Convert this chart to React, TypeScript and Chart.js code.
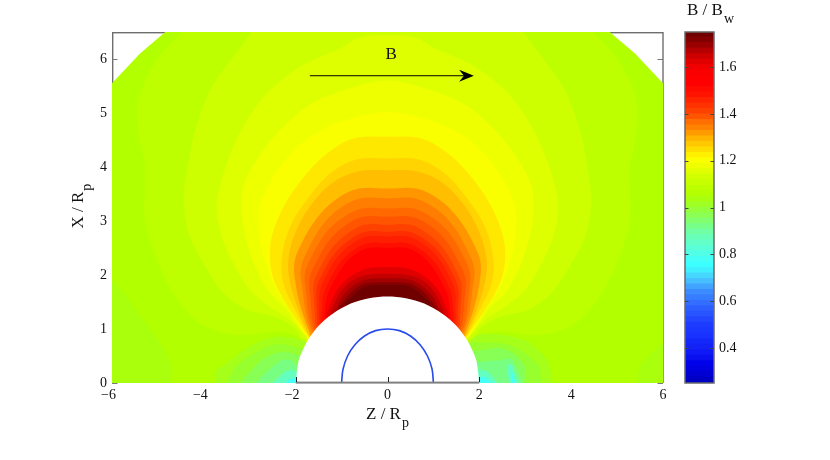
import React, { useEffect, useRef } from "react";
import { Chart, registerables } from "chart.js";

Chart.register(...registerables);

const xTicks = [-6, -4, -2, 0, 2, 4, 6];
const yTicks = [0, 1, 2, 3, 4, 5, 6];
const barTicks = [0.4, 0.6, 0.8, 1, 1.2, 1.4, 1.6];
const obstacleTicks = [-2, 0, 2];
const barMin = 0.25;
const barMax = 1.75;

const SERIF = '"Liberation Serif", serif';

// Colour bar, bottom to top
const barColors = [
  "0,0,195","0,0,210","0,0,225","0,0,235","10,15,240","15,25,245","20,35,245","20,40,250",
  "25,50,255","25,55,255","30,60,255","35,70,255","40,85,255","45,95,255","50,110,255","55,125,255",
  "60,140,255","65,165,255","70,190,255","70,215,255","65,240,255","60,255,255","70,255,245","80,255,230",
  "90,255,215","98,255,200","105,255,185","112,255,165","120,255,135","130,255,110","140,255,85","150,255,60",
  "160,255,35","170,255,15","180,255,0","190,255,0","200,255,0","210,255,0","225,255,0","240,255,0",
  "252,255,0","255,240,0","255,220,0","255,200,0","255,180,0","255,155,0","255,130,0","255,110,0",
  "255,85,0","255,65,0","255,50,0","255,35,0","255,20,0","255,10,0","255,0,0","255,0,0",
  "250,0,0","240,0,0","225,0,0","205,0,0","180,0,0","155,0,0","130,0,0","110,0,0",
];

type P = [number, number];

// Outline of the computed domain
const domain: P[] = [[-6, 0], [-6, 5.55], [-5.39, 6.1], [-4.84, 6.5], [4.84, 6.5], [5.39, 6.1], [6, 5.55], [6, 0]];

// Contour outlines, left half (mirrored for the right half), outermost first
const domeLevels: { color: string; tension: number; pts: P[] }[] = [
  { color: "190,255,0", tension: 0.3, pts: [[-4.48, 6.5], [-5.03, 5.98], [-5.42, 5.24], [-5.42, 4.62], [-5.28, 4.0], [-5.28, 3.02], [-5.02, 2.28], [-4.62, 1.6], [-4.08, 1.1], [-3.36, 0.89], [-2.41, 0.95], [-2.0, 0.88], [-1.7, 0.68]] },
  { color: "205,255,0", tension: 0.3, pts: [[-2.96, 6.5], [-3.36, 6.04], [-3.86, 5.43], [-4.19, 4.69], [-4.34, 4.07], [-4.44, 3.4], [-4.33, 2.77], [-4.01, 2.22], [-3.57, 1.66], [-3.06, 1.35], [-2.48, 1.23], [-2.05, 1.03], [-1.7, 0.72]] },
  { color: "222,255,0", tension: 0.3, pts: [[0, 6.44], [-0.6, 6.4], [-1.03, 6.2], [-1.9, 5.86], [-2.63, 5.36], [-3.14, 4.75], [-3.5, 4.07], [-3.72, 3.3], [-3.61, 2.71], [-3.36, 2.22], [-3.0, 1.72], [-2.56, 1.41], [-2.1, 1.15], [-1.7, 0.78]] },
  { color: "238,255,0", tension: 0.3, pts: [[0, 5.6], [-1.03, 5.4], [-1.76, 5.12], [-2.41, 4.62], [-2.85, 4.13], [-3.14, 3.64], [-3.17, 3.08], [-3.06, 2.59], [-2.85, 2.09], [-2.56, 1.66], [-2.19, 1.35], [-1.95, 1.05], [-1.7, 0.78]] },
  { color: "250,255,0", tension: 0.3, pts: [[0, 5.02], [-1.03, 4.84], [-1.61, 4.6], [-2.05, 4.3], [-2.5, 3.8], [-2.78, 3.3], [-2.81, 3.08], [-2.77, 2.59], [-2.63, 2.15], [-2.41, 1.72], [-2.12, 1.35], [-1.88, 1.0], [-1.7, 0.78]] },
];

const footGreens: { color: string; pts: P[] }[] = [
  { color: "170,255,12", pts: [[-6, 0], [-6, 1.9], [-5.52, 1.4], [-5.0, 0.8], [-4.7, 0.3], [-4.7, 0]] },
  { color: "170,255,12", pts: [[5.42, 0], [5.5, 0.3], [6, 0.73], [6, 0]] },
  { color: "165,255,25", pts: [[-3.75, 0], [-3.75, 0.21], [-3.5, 0.36], [-3.14, 0.61], [-2.7, 0.8], [-2.34, 0.86], [-1.9, 0.8], [-1.7, 0.7], [-1.7, 0]] },
  { color: "150,255,45", pts: [[-3.5, 0], [-3.3, 0.3], [-3.0, 0.5], [-2.6, 0.68], [-2.3, 0.72], [-1.95, 0.65], [-1.7, 0.6], [-1.7, 0]] },
  { color: "135,255,85", pts: [[-3.2, 0], [-3.0, 0.2], [-2.75, 0.42], [-2.45, 0.55], [-2.2, 0.58], [-1.95, 0.52], [-1.7, 0.5], [-1.7, 0]] },
  { color: "120,255,130", pts: [[-2.85, 0], [-2.7, 0.15], [-2.5, 0.3], [-2.3, 0.42], [-2.1, 0.42], [-1.95, 0.3], [-1.7, 0.3], [-1.7, 0]] },
  { color: "100,255,190", pts: [[-2.5, 0], [-2.35, 0.12], [-2.2, 0.22], [-2.05, 0.25], [-1.93, 0.15], [-1.7, 0.15], [-1.7, 0]] },
  { color: "70,255,245", pts: [[-2.25, 0], [-2.1, 0.08], [-1.98, 0.1], [-1.7, 0.1], [-1.7, 0]] },
  { color: "165,255,25", pts: [[3.6, 0], [3.5, 0.4], [3.1, 0.75], [2.6, 0.88], [2.0, 0.9], [1.7, 0.7], [1.7, 0]] },
  { color: "150,255,45", pts: [[3.35, 0], [3.3, 0.3], [3.0, 0.55], [2.6, 0.72], [2.0, 0.75], [1.7, 0.7], [1.7, 0]] },
  { color: "135,255,85", pts: [[3.0, 0], [3.0, 0.3], [2.75, 0.55], [2.45, 0.65], [2.0, 0.6], [1.7, 0.55], [1.7, 0]] },
  { color: "120,255,130", pts: [[2.95, 0], [2.85, 0.2], [2.7, 0.45], [2.45, 0.42], [2.1, 0.4], [1.7, 0.35], [1.7, 0]] },
  { color: "100,255,190", pts: [[2.85, 0], [2.7, 0.35], [2.6, 0.3], [2.65, 0]] },
  { color: "100,255,190", pts: [[2.4, 0], [2.2, 0.2], [2.0, 0.25], [1.7, 0.2], [1.7, 0]] },
  { color: "70,255,245", pts: [[2.8, 0], [2.68, 0.25], [2.72, 0]] },
  { color: "70,255,245", pts: [[2.3, 0], [2.1, 0.12], [2.0, 0.1], [1.7, 0.1], [1.7, 0]] },
];

const innerLevels: { color: string; pts: P[] }[] = [
  { color: "255,232,0", pts: [[0, 4.56], [-0.74, 4.53], [-1.32, 4.25], [-1.82, 3.82], [-2.26, 3.27], [-2.52, 2.71], [-2.56, 2.28], [-2.45, 1.85], [-2.12, 1.35], [-1.87, 1.04], [-1.6, 0.7]] },
  { color: "255,212,0", pts: [[0, 4.16], [-0.67, 4.14], [-1.25, 3.88], [-1.76, 3.39], [-2.12, 2.9], [-2.3, 2.34], [-2.27, 1.85], [-2.01, 1.35], [-1.79, 0.98], [-1.6, 0.7]] },
  { color: "255,190,0", pts: [[0, 3.94], [-0.67, 3.91], [-1.21, 3.7], [-1.69, 3.27], [-2.01, 2.77], [-2.16, 2.28], [-2.12, 1.85], [-1.94, 1.35], [-1.76, 0.98], [-1.6, 0.7]] },
  { color: "255,150,0", pts: [[0, 3.6], [-0.63, 3.6], [-1.14, 3.39], [-1.54, 3.05], [-1.87, 2.59], [-2.03, 2.22], [-1.99, 1.78], [-1.87, 1.35], [-1.72, 0.98], [-1.6, 0.7]] },
  { color: "255,125,0", pts: [[0, 3.42], [-0.58, 3.42], [-1.06, 3.22], [-1.44, 2.9], [-1.74, 2.46], [-1.89, 2.12], [-1.85, 1.72], [-1.78, 1.3], [-1.68, 1.0], [-1.55, 0.75]] },
  { color: "255,105,0", pts: [[0, 3.23], [-0.56, 3.23], [-1.01, 3.04], [-1.37, 2.75], [-1.66, 2.33], [-1.8, 2.02], [-1.77, 1.65], [-1.72, 1.28], [-1.65, 1.02], [-1.5, 0.8]] },
  { color: "255,85,0", pts: [[0, 3.08], [-0.53, 3.08], [-0.95, 2.9], [-1.29, 2.62], [-1.56, 2.22], [-1.7, 1.93], [-1.68, 1.58], [-1.65, 1.25], [-1.6, 1.02], [-1.45, 0.85]] },
  { color: "255,65,0", pts: [[0, 2.93], [-0.5, 2.93], [-0.9, 2.75], [-1.22, 2.49], [-1.48, 2.11], [-1.61, 1.84], [-1.6, 1.52], [-1.58, 1.22], [-1.56, 1.05], [-1.4, 0.9]] },
  { color: "255,45,0", pts: [[0, 2.8], [-0.48, 2.8], [-0.86, 2.63], [-1.17, 2.38], [-1.42, 2.02], [-1.54, 1.76], [-1.54, 1.46], [-1.53, 1.2], [-1.5, 1.02], [-1.35, 0.95]] },
  { color: "255,30,0", pts: [[0, 2.71], [-0.46, 2.71], [-0.82, 2.55], [-1.12, 2.3], [-1.36, 1.95], [-1.47, 1.7], [-1.48, 1.42], [-1.48, 1.18], [-1.45, 1.07], [-1.3, 1.0]] },
  { color: "255,15,0", pts: [[0, 2.59], [-0.44, 2.59], [-0.78, 2.44], [-1.06, 2.2], [-1.29, 1.86], [-1.4, 1.62], [-1.42, 1.38], [-1.43, 1.15], [-1.25, 1.05]] },
  { color: "255,0,0", pts: [[0, 2.5], [-0.42, 2.5], [-0.74, 2.36], [-1.0, 2.12], [-1.22, 1.8], [-1.33, 1.56], [-1.36, 1.33], [-1.36, 1.2], [-1.2, 1.1]] },
  { color: "225,0,0", pts: [[0, 2.15], [-0.45, 2.12], [-0.85, 1.95], [-1.12, 1.7], [-1.25, 1.45], [-1.32, 1.2], [-1.1, 1.1]] },
  { color: "195,0,0", pts: [[0, 2.02], [-0.45, 2.0], [-0.8, 1.88], [-1.05, 1.65], [-1.18, 1.42], [-1.22, 1.28], [-1.0, 1.2]] },
  { color: "165,0,0", pts: [[0, 1.94], [-0.45, 1.92], [-0.75, 1.8], [-0.98, 1.6], [-1.1, 1.4], [-1.15, 1.3], [-0.9, 1.25]] },
  { color: "135,0,0", pts: [[0, 1.87], [-0.45, 1.85], [-0.7, 1.75], [-0.9, 1.58], [-1.03, 1.43], [-1.07, 1.35], [-0.8, 1.3]] },
  { color: "110,0,0", pts: [[0, 1.82], [-0.42, 1.8], [-0.62, 1.72], [-0.8, 1.58], [-0.93, 1.47], [-0.7, 1.35]] },
];

// Obstacle surface and inner body
const obstacle: P[] = [[-2, 0], [-1.94, 0.4], [-1.85, 0.6], [-1.73, 0.8], [-1.5, 1.06], [-1.2, 1.28], [-0.8, 1.47], [-0.4, 1.57], [0, 1.6], [0.4, 1.57], [0.8, 1.47], [1.2, 1.28], [1.5, 1.06], [1.73, 0.8], [1.85, 0.6], [1.94, 0.4], [2, 0]];
const body: P[] = [[-1, 0], [-0.97, 0.25], [-0.87, 0.5], [-0.71, 0.71], [-0.5, 0.87], [-0.26, 0.97], [0, 1], [0.26, 0.97], [0.5, 0.87], [0.71, 0.71], [0.87, 0.5], [0.97, 0.26], [1, 0]];

// Field arrow
const arrowShaft: P[] = [[-1.69, 5.69], [1.7, 5.69]];
const arrowHead: P[] = [[1.88, 5.69], [1.56, 5.8], [1.665, 5.69], [1.56, 5.58]];
const arrowLabel: P = [0.08, 6.08];

const toPts = (p: P[]) => p.map(([x, y]) => ({ x, y }));
const mirrored = (p: P[]): P[] => {
  const flipped = p.map(([x, y]) => [-x, y] as P);
  return p[0][0] === 0 ? [...p.slice().reverse(), ...flipped.slice(1)] : [...p, ...flipped.reverse()];
};

const poly = (pts: P[], color: string, tension = 0) => ({
  data: toPts(pts),
  showLine: true,
  pointRadius: 0,
  borderWidth: 0,
  fill: "shape",
  backgroundColor: `rgb(${color})`,
  tension,
});

const line = (pts: P[], color: string, width: number, tension = 0) => ({
  data: toPts(pts),
  showLine: true,
  pointRadius: 0,
  borderWidth: width,
  borderColor: color,
  fill: false,
  tension,
});

function subText(ctx: CanvasRenderingContext2D, main: string, sub: string, x: number, y: number, size: number, subSize: number, drop: number) {
  ctx.font = `${size}px ${SERIF}`;
  ctx.textAlign = "left";
  ctx.textBaseline = "alphabetic";
  ctx.fillStyle = "#111";
  ctx.fillText(main, x, y);
  const w = ctx.measureText(main).width;
  ctx.font = `${subSize}px ${SERIF}`;
  ctx.fillText(sub, x + w + 1, y + drop);
}

export default function App() {
  const mainRef = useRef<HTMLCanvasElement>(null);
  const barRef = useRef<HTMLCanvasElement>(null);

  useEffect(() => {
    const layers = [
      poly(domain, "178,255,0"),
      ...domeLevels.map((l) => poly(mirrored(l.pts), l.color, l.tension)),
      ...footGreens.map((l) => poly(l.pts, l.color, 0.2)),
      ...innerLevels.map((l) => poly(mirrored(l.pts), l.color, 0.35)),
      poly(obstacle, "255,255,255", 0.3),
      line(body, "rgb(40,75,235)", 1.6, 0.35),
      line(arrowShaft, "#000", 1),
      poly(arrowHead, "0,0,0"),
    ];
    const n = layers.length;
    const datasets = layers.map((d, i) => ({ ...d, order: n - i }));

    const underlay = {
      id: "frame",
      beforeDatasetsDraw(chart: any) {
        const { ctx, chartArea: a, scales } = chart;
        ctx.save();
        ctx.fillStyle = "rgb(110,110,110)";
        ctx.fillRect(a.left, a.top, 1.4, a.height);
        ctx.fillRect(a.right - 0.7, a.top, 1.4, a.height);
        ctx.fillRect(a.left, a.top, a.width, 1.4);
        ctx.strokeStyle = "rgb(120,120,120)";
        ctx.lineWidth = 1;
        for (const v of yTicks) {
          const py = Math.round(scales.y.getPixelForValue(v)) + 0.5;
          ctx.beginPath(); ctx.moveTo(a.left, py); ctx.lineTo(a.left + 5.5, py); ctx.stroke();
          ctx.beginPath(); ctx.moveTo(a.right, py); ctx.lineTo(a.right - 5.5, py); ctx.stroke();
        }
        ctx.restore();
      },
      afterDatasetsDraw(chart: any) {
        const { ctx, chartArea: a, scales } = chart;
        ctx.save();
        const first = scales.x.getPixelForValue(obstacleTicks[0]);
        const last = scales.x.getPixelForValue(obstacleTicks[obstacleTicks.length - 1]);
        ctx.fillStyle = "rgb(128,128,128)";
        ctx.fillRect(first, a.bottom - 1.4, last - first, 2);
        ctx.strokeStyle = "#222";
        ctx.lineWidth = 1;
        for (const v of obstacleTicks) {
          const px = Math.round(scales.x.getPixelForValue(v));
          ctx.beginPath(); ctx.moveTo(px + 0.5, a.bottom - 1); ctx.lineTo(px + 0.5, a.bottom - 6); ctx.stroke();
        }
        ctx.restore();
      },
      afterDraw(chart: any) {
        const { ctx, scales } = chart;
        ctx.save();
        ctx.font = `17px ${SERIF}`;
        ctx.fillStyle = "#111";
        ctx.textAlign = "center";
        ctx.textBaseline = "middle";
        ctx.fillText("B", scales.x.getPixelForValue(arrowLabel[0]), scales.y.getPixelForValue(arrowLabel[1]));
        subText(ctx, "Z / R", "p", 366, 418.5, 17, 14, 8);
        ctx.translate(82.5, 228.5);
        ctx.rotate(-Math.PI / 2);
        subText(ctx, "X / R", "p", 0, 0, 17, 14, 8);
        ctx.restore();
      },
    };

    const mainChart = new Chart(mainRef.current!, {
      type: "scatter",
      data: { datasets: datasets as any },
      plugins: [underlay],
      options: {
        animation: false,
        responsive: false,
        layout: { padding: { left: 12, top: 32, right: 167, bottom: 27 } },
        plugins: { legend: { display: false }, tooltip: { enabled: false } },
        scales: {
          x: {
            type: "linear",
            min: -6,
            max: 6,
            grid: { display: false },
            border: { display: false },
            afterBuildTicks: (s: any) => { s.ticks = xTicks.map((value) => ({ value })); },
            afterFit: (s: any) => { s.height = 50; },
            ticks: {
              autoSkip: false,
              maxRotation: 0,
              padding: -4,
              color: "#111",
              font: { family: SERIF, size: 14 },
              callback: (v: any) => (Number(v) < 0 ? `\u2212${-v}\u2002` : String(v)),
            },
          },
          y: {
            type: "linear",
            min: 0,
            max: 6.5,
            grid: { display: false },
            border: { display: false },
            afterBuildTicks: (s: any) => { s.ticks = yTicks.map((value) => ({ value })); },
            afterFit: (s: any) => { s.width = 100; },
            ticks: {
              autoSkip: false,
              padding: -3,
              color: "#111",
              font: { family: SERIF, size: 14 },
            },
          },
        },
      },
    } as any);

    const step = (barMax - barMin) / barColors.length;
    const barSets = barColors.map((c, i) => ({
      data: [[barMin + i * step, barMin + (i + 1) * step + (i < barColors.length - 1 ? 0.002 : 0)]],
      backgroundColor: `rgb(${c})`,
      borderWidth: 0,
      barPercentage: 1,
      categoryPercentage: 1,
    }));

    const barDeco = {
      id: "barDeco",
      afterDatasetsDraw(chart: any) {
        const { ctx, chartArea: a, scales } = chart;
        ctx.save();
        ctx.strokeStyle = "rgb(105,105,105)";
        ctx.lineWidth = 1.5;
        ctx.strokeRect(a.left, a.top, a.width, a.height);
        ctx.strokeStyle = "rgb(70,70,70)";
        ctx.lineWidth = 1;
        for (const v of barTicks) {
          const py = Math.round(scales.y.getPixelForValue(v)) + 0.5;
          ctx.beginPath(); ctx.moveTo(a.left, py); ctx.lineTo(a.left + 3.5, py); ctx.stroke();
          ctx.beginPath(); ctx.moveTo(a.right, py); ctx.lineTo(a.right - 3.5, py); ctx.stroke();
        }
        subText(ctx, "B / B", "w", 687, 15, 17, 14, 8);
        ctx.restore();
      },
    };

    const barChart = new Chart(barRef.current!, {
      type: "bar",
      data: { labels: ["B / Bw"], datasets: barSets as any },
      plugins: [barDeco],
      options: {
        animation: false,
        responsive: false,
        layout: { padding: { left: 685, top: 32, right: 76, bottom: 77 } },
        plugins: { legend: { display: false }, tooltip: { enabled: false } },
        scales: {
          x: { stacked: true, display: false, grid: { display: false } },
          y: {
            position: "right",
            min: barMin,
            max: barMax,
            grid: { display: false },
            border: { display: false },
            afterBuildTicks: (s: any) => { s.ticks = barTicks.map((value) => ({ value })); },
            afterFit: (s: any) => { s.width = 40; },
            ticks: {
              padding: -3,
              autoSkip: false,
              color: "#111",
              font: { family: SERIF, size: 14 },
              callback: (v: any) => (v === 1 ? "1" : Number(v).toFixed(1)),
            },
          },
        },
      },
    } as any);

    return () => {
      mainChart.destroy();
      barChart.destroy();
    };
  }, []);

  const canvasStyle: React.CSSProperties = { position: "absolute", left: 0, top: 0, display: "block" };
  return (
    <div style={{ position: "absolute", left: 0, top: 0, width: 830, height: 460, background: "#fff" }}>
      <canvas ref={mainRef} width={830} height={460} style={canvasStyle} />
      <canvas ref={barRef} width={830} height={460} style={canvasStyle} />
    </div>
  );
}
